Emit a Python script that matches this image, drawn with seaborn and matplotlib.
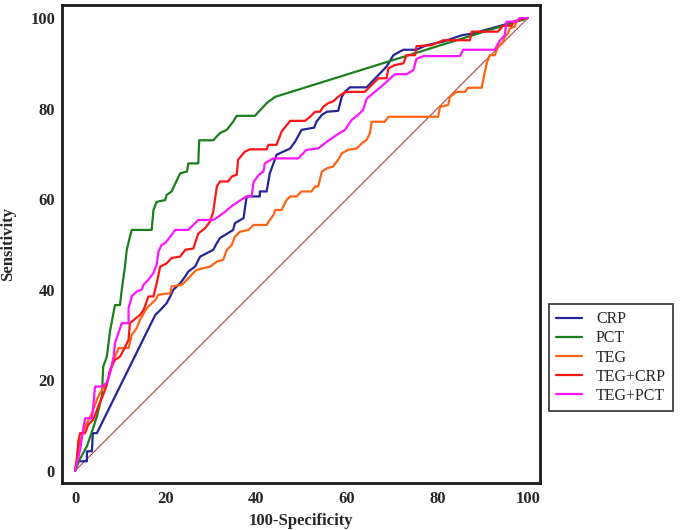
import numpy as np
import pandas as pd
import matplotlib
matplotlib.use("Agg")
import matplotlib.pyplot as plt
import seaborn as sns

# ---------------- data ----------------
series_names = ["CRP", "PCT", "TEG", "TEG+CRP", "TEG+PCT"]
series_colors = ["#25259a", "#1b7f1b", "#ff6414", "#ff1414", "#ff14ff"]

crp_x = [0, 0.4, 2.6, 2.6, 3.7, 3.9, 4.8, 16.6, 17.7, 18.8, 20.2, 21.0, 21.7, 23.2, 24.3, 25.0,
         26.5, 27.6, 30.5, 31.3, 32.0, 34.9, 35.3, 37.2, 37.5, 37.9, 40.8, 40.8, 42.3, 43.0, 44.5,
         46.0, 47.5, 48.6, 50.0, 52.8, 53.3, 54.5, 55.6, 58.1, 58.9, 59.6, 60.7, 64.4, 68.8, 70.3,
         72.5, 75.4, 77.6, 81.3, 85.4, 87.9, 100]
crp_y = [0, 2.1, 2.1, 4.3, 4.3, 8.3, 8.3, 32.2, 34.4, 35.5, 37.0, 38.5, 40.0, 41.4, 42.9, 44.0,
         45.1, 47.3, 48.8, 50.3, 51.4, 53.2, 54.7, 55.8, 58.0, 60.6, 60.6, 61.7, 61.7, 65.7, 69.8,
         70.5, 71.2, 72.7, 75.3, 75.8, 77.1, 78.6, 79.3, 79.5, 82.6, 83.7, 84.7, 84.7, 89.3, 91.8,
         93.0, 93.0, 94.0, 94.8, 96.2, 96.6, 100]

pct_x = [0, 1.0, 2.6, 4.0, 4.8, 5.9, 6.2, 7.0, 7.7, 8.8, 9.9, 10.3, 11.0, 11.4, 12.1, 12.5, 16.9,
         17.3, 18.0, 19.9, 20.2, 21.3, 23.2, 24.7, 25.0, 27.2, 27.4, 30.5, 32.0, 33.5, 34.9, 35.7,
         39.7, 42.3, 44.2, 100]
pct_y = [0, 2.5, 5.4, 9.5, 12.0, 16.5, 23.0, 25.2, 30.8, 36.6, 36.6, 40.0, 45.1, 48.8, 51.7, 53.2,
         53.2, 57.6, 59.4, 59.8, 60.9, 61.7, 65.7, 66.1, 67.9, 67.9, 73.0, 73.0, 74.6, 75.3, 77.1,
         78.4, 78.4, 81.2, 82.6, 100]

teg_x = [0, 0.7, 2.2, 3.7, 4.8, 5.5, 7.0, 7.7, 8.8, 9.6, 11.8, 12.5, 13.6, 14.3, 15.8, 17.7, 18.4,
         21.0, 21.3, 23.6, 25.0, 26.1, 26.9, 29.8, 31.3, 32.7, 33.5, 34.6, 35.3, 36.4, 38.3, 39.4,
         42.3, 43.0, 43.8, 44.2, 45.6, 46.7, 47.5, 48.9, 50.0, 52.2, 53.0, 53.7, 54.5, 55.6, 57.0,
         58.1, 58.9, 60.3, 62.2, 63.3, 64.4, 65.1, 65.5, 68.4, 69.2, 80.2, 80.6, 82.4, 82.8, 84.3,
         86.1, 86.8, 89.8, 90.9, 91.6, 92.7, 93.4, 94.5, 94.9, 95.6, 96.0, 97.1, 97.5, 98.6, 100]
teg_y = [0, 5.4, 9.8, 12.7, 15.7, 17.2, 19.4, 21.6, 25.2, 27.1, 27.1, 30.0, 31.5, 33.3, 35.9, 37.7,
         38.9, 39.2, 40.7, 41.1, 42.5, 43.7, 44.4, 45.1, 46.2, 46.6, 48.8, 49.9, 51.7, 52.8, 53.2,
         54.3, 54.3, 55.4, 56.5, 57.6, 57.6, 59.8, 60.6, 60.6, 61.7, 61.7, 62.8, 62.8, 66.1, 66.8,
         67.2, 68.7, 70.1, 70.9, 71.2, 72.3, 73.1, 74.5, 77.1, 77.1, 78.2, 78.2, 80.4, 80.8, 82.6,
         83.7, 83.7, 84.6, 84.6, 90.0, 91.8, 91.8, 93.6, 94.7, 95.8, 96.6, 97.7, 98.1, 99.2, 99.9, 100]

tegcrp_x = [0, 0.4, 0.7, 1.1, 2.2, 2.9, 4.0, 5.1, 6.2, 7.0, 7.7, 8.8, 9.9, 10.7, 11.8, 12.1, 14.3,
            15.1, 16.2, 17.3, 18.0, 18.8, 20.2, 21.3, 23.2, 24.3, 26.1, 27.2, 28.7, 29.8, 30.5,
            31.3, 32.0, 33.8, 34.6, 35.7, 36.0, 37.5, 38.6, 42.3, 42.7, 44.5, 45.6, 47.5, 50.8,
            51.9, 53.0, 54.1, 54.8, 55.9, 57.0, 58.1, 59.2, 60.0, 64.0, 65.9, 67.0, 68.8, 69.2,
            70.6, 72.5, 73.2, 75.1, 75.4, 78.7, 81.3, 87.2, 87.6, 93.4, 94.5, 96.4, 96.8, 99.0, 100]
tegcrp_y = [0, 2.4, 6.5, 8.3, 8.3, 10.2, 11.3, 14.2, 16.8, 19.0, 22.3, 24.5, 25.2, 26.7, 28.9, 32.6,
            34.4, 35.5, 38.5, 38.5, 41.4, 45.1, 45.8, 47.0, 47.3, 48.8, 49.1, 52.4, 53.6, 55.0,
            57.2, 62.8, 63.9, 63.9, 65.0, 65.4, 68.7, 70.5, 71.0, 71.0, 72.0, 72.0, 74.9, 77.3,
            77.3, 78.2, 79.3, 79.3, 80.4, 81.2, 81.6, 82.6, 83.4, 83.7, 83.7, 85.6, 86.7, 86.7,
            88.9, 89.6, 90.0, 91.8, 91.8, 93.8, 94.0, 95.1, 95.1, 97.0, 97.0, 98.3, 98.3, 99.2,
            99.9, 100]

tegpct_x = [0, 0.5, 1.1, 1.8, 2.2, 3.7, 4.0, 4.4, 5.9, 7.0, 7.7, 8.5, 8.8, 10.3, 11.8, 11.8, 12.5,
            13.6, 14.7, 15.1, 16.2, 17.3, 18.0, 18.4, 19.1, 19.9, 21.0, 22.1, 25.0, 26.1, 27.2,
            30.5, 31.6, 33.1, 34.9, 37.2, 37.9, 39.0, 39.4, 40.5, 41.6, 41.9, 43.8, 49.3, 51.1,
            53.7, 55.9, 57.8, 59.6, 61.1, 62.5, 63.6, 64.4, 66.6, 68.8, 70.6, 73.2, 74.7, 75.4,
            76.9, 85.0, 85.7, 92.7, 93.8, 94.9, 95.3, 97.5, 98.2, 100]
tegpct_y = [0, 2.1, 4.6, 9.4, 11.6, 11.6, 14.2, 18.6, 18.6, 19.5, 21.6, 25.2, 28.2, 32.6, 32.6,
            35.9, 38.5, 39.6, 40.0, 41.1, 42.2, 43.7, 45.5, 48.4, 49.9, 50.3, 51.7, 53.2, 53.2,
            54.3, 55.4, 55.4, 56.1, 57.2, 58.7, 60.2, 60.6, 60.6, 63.7, 65.3, 66.1, 67.9, 69.0,
            69.0, 70.9, 71.2, 72.9, 74.2, 75.3, 77.5, 78.6, 79.7, 82.2, 84.0, 85.9, 87.6, 87.6,
            88.5, 91.0, 91.6, 91.6, 93.0, 93.0, 95.0, 96.2, 99.2, 99.2, 100, 100]

diag_x = [0, 100]
diag_y = [0, 100]

tick_values = [0, 20, 40, 60, 80, 100]
x_label = "100-Specificity"
y_label = "Sensitivity"

# ---------------- build long table ----------------
xs = [crp_x, pct_x, teg_x, tegcrp_x, tegpct_x]
ys = [crp_y, pct_y, teg_y, tegcrp_y, tegpct_y]
frames = []
for name, sx, sy in zip(series_names, xs, ys):
    frames.append(pd.DataFrame({"x": sx, "y": sy, "series": name, "order": np.arange(len(sx))}))
df = pd.concat(frames, ignore_index=True)

# ---------------- plot ----------------
sns.set_style("white")
plt.rcParams["font.family"] = ["Liberation Serif", "DejaVu Serif"]

fig = plt.figure(figsize=(6.8, 5.3), dpi=100)
ax = fig.add_axes([0.0912, 0.0887, 0.703, 0.902])

ax.plot(diag_x, diag_y, color="#a8493c", lw=0.8, zorder=1)

sns.lineplot(data=df, x="x", y="y", hue="series", hue_order=series_names,
             palette=dict(zip(series_names, series_colors)), sort=False,
             estimator=None, units="series", lw=1.6, ax=ax, zorder=2)

ax.set_xlim(-2.9, 102.7)
ax.set_ylim(-2.7, 102.9)
ax.set_xticks(tick_values)
ax.set_yticks(tick_values)
ax.set_xticklabels([str(v) for v in tick_values], fontweight="bold", fontsize=12)
ax.set_yticklabels([str(v) for v in tick_values], fontweight="bold", fontsize=12)
ax.tick_params(direction="in", length=7.5, width=1.6, color="#111111", pad=6)
ax.tick_params(axis="y", pad=5)

for sp in ax.spines.values():
    sp.set_linewidth(2.0)
    sp.set_color("#1a1a1a")

ax.set_xlabel(x_label, fontweight="bold", fontsize=12, labelpad=4)
ax.set_ylabel(y_label, fontweight="bold", fontsize=12, labelpad=10)

handles, labels = ax.get_legend_handles_labels()
if ax.get_legend() is not None:
    ax.get_legend().remove()
leg = fig.legend(handles, labels, loc="upper left", bbox_to_anchor=(0.807, 0.4265),
                 borderaxespad=0, fontsize=11.5, frameon=True, fancybox=False,
                 edgecolor="#111111", handlelength=1.6, handletextpad=0.9,
                 labelspacing=0.2, borderpad=0.45)
leg.get_frame().set_linewidth(1.3)
for ln in leg.get_lines():
    ln.set_linewidth(1.6)

fig.savefig("out.png", dpi=100)
